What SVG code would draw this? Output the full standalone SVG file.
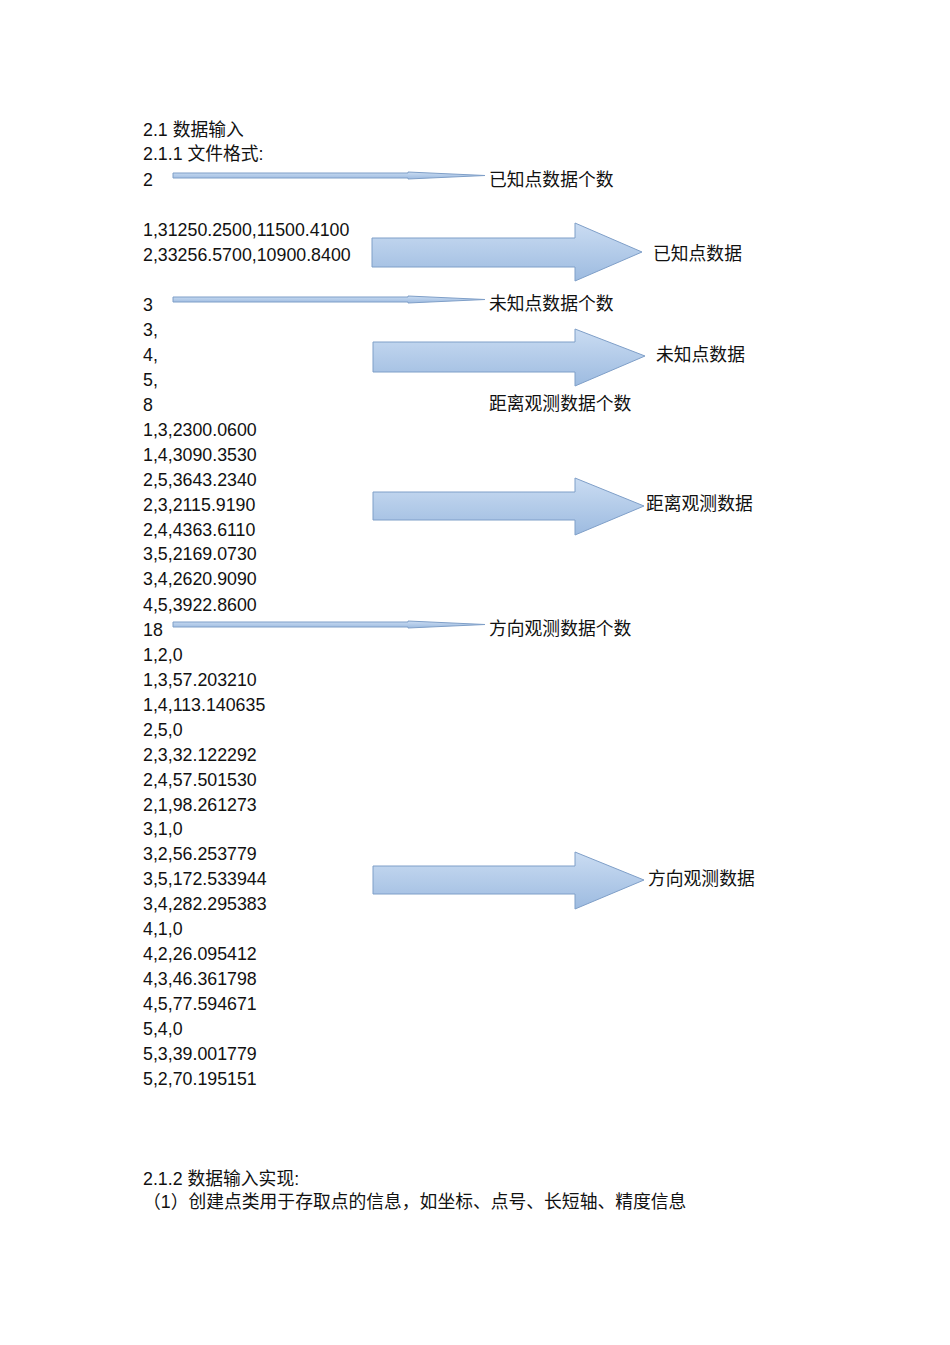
<svg xmlns="http://www.w3.org/2000/svg" width="950" height="1345" viewBox="0 0 950 1345">
<style>
text{font-family:"Liberation Sans","Noto Sans CJK SC",sans-serif;font-size:17.8px;fill:#111}
.a{fill:url(#g);stroke:#7f9fc8;stroke-width:1}
</style>
<defs><linearGradient id="g" x1="0" y1="0" x2="0" y2="1"><stop offset="0" stop-color="#cadcf2"/><stop offset="1" stop-color="#9dbbe0"/></linearGradient></defs>
<rect width="950" height="1345" fill="#fff"/>
<g id="connectors">
<path class="a" d="M173,173 H408 V172 L485,175.5 L408,179 V178 H173 Z"/>
<path class="a" d="M173,297 H408 V296 L485,299.5 L408,303 V302 H173 Z"/>
<path class="a" d="M173,622 H408 V621 L485,624.5 L408,628 V627 H173 Z"/>
<path class="a" d="M372,238 H575 V223 L642,252 L575,281 V267 H372 Z"/>
<path class="a" d="M373,342 H575 V329 L645,356 L575,386 V372 H373 Z"/>
<path class="a" d="M373,492 H575 V478 L644,506 L575,535 V520 H373 Z"/>
<path class="a" d="M373,866 H575 V852 L644,880 L575,909 V894 H373 Z"/>
</g>
<g id="text">
<text x="143" y="136">2.1 数据输入</text>
<text x="143" y="160">2.1.1 文件格式:</text>
<text x="143" y="186">2</text>
<text x="143" y="236">1,31250.2500,11500.4100</text>
<text x="143" y="261">2,33256.5700,10900.8400</text>
<text x="143" y="311">3</text>
<text x="143" y="336">3,</text>
<text x="143" y="361">4,</text>
<text x="143" y="386">5,</text>
<text x="143" y="411">8</text>
<text x="143" y="436">1,3,2300.0600</text>
<text x="143" y="461">1,4,3090.3530</text>
<text x="143" y="486">2,5,3643.2340</text>
<text x="143" y="511">2,3,2115.9190</text>
<text x="143" y="536">2,4,4363.6110</text>
<text x="143" y="560">3,5,2169.0730</text>
<text x="143" y="585">3,4,2620.9090</text>
<text x="143" y="611">4,5,3922.8600</text>
<text x="143" y="636">18</text>
<text x="143" y="661">1,2,0</text>
<text x="143" y="686">1,3,57.203210</text>
<text x="143" y="711">1,4,113.140635</text>
<text x="143" y="736">2,5,0</text>
<text x="143" y="761">2,3,32.122292</text>
<text x="143" y="786">2,4,57.501530</text>
<text x="143" y="811">2,1,98.261273</text>
<text x="143" y="835">3,1,0</text>
<text x="143" y="860">3,2,56.253779</text>
<text x="143" y="885">3,5,172.533944</text>
<text x="143" y="910">3,4,282.295383</text>
<text x="143" y="935">4,1,0</text>
<text x="143" y="960">4,2,26.095412</text>
<text x="143" y="985">4,3,46.361798</text>
<text x="143" y="1010">4,5,77.594671</text>
<text x="143" y="1035">5,4,0</text>
<text x="143" y="1060">5,3,39.001779</text>
<text x="143" y="1085">5,2,70.195151</text>
<text x="143" y="1185">2.1.2 数据输入实现:</text>
<text x="143" y="1208">（1）创建点类用于存取点的信息，如坐标、点号、长短轴、精度信息</text>
<text x="489" y="186">已知点数据个数</text>
<text x="653" y="260">已知点数据</text>
<text x="489" y="310">未知点数据个数</text>
<text x="656" y="361">未知点数据</text>
<text x="489" y="410">距离观测数据个数</text>
<text x="646" y="510">距离观测数据</text>
<text x="489" y="635">方向观测数据个数</text>
<text x="648" y="885">方向观测数据</text>
</g>
</svg>
